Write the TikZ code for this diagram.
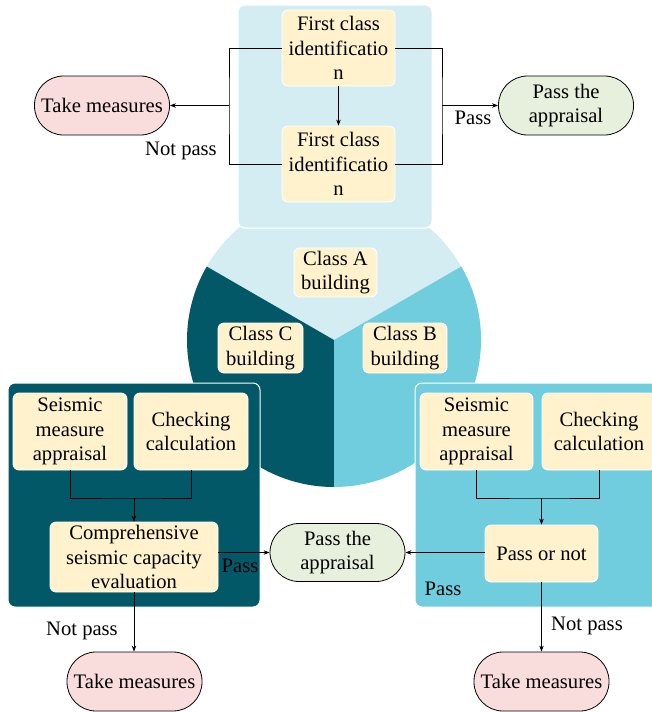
\documentclass[tikz,border=0pt]{standalone}
\usepackage{fontspec}
\setmainfont{Liberation Serif}
\usetikzlibrary{arrows.meta}
\definecolor{darkteal}{HTML}{035868}
\definecolor{midcyan}{HTML}{6FCDDD}
\definecolor{lightcyan}{HTML}{D3EDF2}
\definecolor{yel}{HTML}{FFF2CC}
\definecolor{pinkf}{HTML}{F9DCDC}
\definecolor{greenf}{HTML}{E6F0DC}
\tikzset{
  txt/.style={font=\fontsize{20.6}{24.5}\selectfont, align=center},
  ybox/.style={txt, rounded corners=6pt, fill=yel, draw=white, line width=0.8pt, inner sep=0pt},
  term/.style={txt, rounded corners=29pt, draw=black, line width=0.8pt, inner sep=0pt, minimum width=135pt, minimum height=59pt},
  panel/.style={rounded corners=7pt, draw=white, line width=1pt},
  conn/.style={line width=0.8pt},
  arr/.style={conn, -{Stealth[length=6pt,width=4.5pt]}},
  lbl/.style={txt, inner sep=0pt}
}
\begin{document}
\begin{tikzpicture}[x=1pt,y=-1pt]
\useasboundingbox (0,0) rectangle (651,712);
% pie
\fill[lightcyan] (334,340) -- ++(-150:147) arc[start angle=-150, end angle=-30, radius=147] -- cycle;
\fill[darkteal] (334,340) -- ++(90:147) arc[start angle=90, end angle=210, radius=147] -- cycle;
\fill[midcyan] (334,340) -- ++(-30:147) arc[start angle=-30, end angle=90, radius=147] -- cycle;
% panels
\filldraw[panel, fill=lightcyan] (238,5) rectangle (432,228);
\filldraw[panel, fill=darkteal] (8,383) rectangle (260,607);
\filldraw[panel, fill=midcyan] (415,383) rectangle (675,607);
% class boxes
\node[ybox, minimum width=83pt, minimum height=49pt] (ca) at (335.5,272.5) {Class A\\building};
\node[ybox, minimum width=85pt, minimum height=50pt] (cc) at (260.5,348) {Class C\\building};
\node[ybox, minimum width=84pt, minimum height=50pt] (cb) at (405,348) {Class B\\building};
% top
\node[ybox, minimum width=113pt, minimum height=76pt] (fc1) at (338.5,48) {First class\\identificatio\\n};
\node[ybox, minimum width=113pt, minimum height=76pt] (fc2) at (338.5,164) {First class\\identificatio\\n};
\node[term, fill=pinkf] (tm1) at (102,105.5) {Take measures};
\node[term, fill=greenf] (pt1) at (566,105.5) {Pass the\\appraisal};
\coordinate (bl) at (229,105.5);
\coordinate (br) at (442,105.5);
\draw[arr] (fc1) -- (fc2);
\draw[conn] (fc1.west) -| (bl) |- (fc2.west);
\draw[conn] (fc1.east) -| (br) |- (fc2.east);
\draw[arr] (bl) -- (tm1.east);
\draw[arr] (br) -- (pt1.west);
\node[lbl] (np1) at (181,151) {Not pass};
\node[lbl] (p1) at (473,118) {Pass};
% left panel
\node[ybox, minimum width=114pt, minimum height=77pt] (sm1) at (70,431.5) {Seismic\\measure\\appraisal};
\node[ybox, minimum width=114pt, minimum height=77pt] (ck1) at (191,431.5) {Checking\\calculation};
\node[ybox, minimum width=168pt, minimum height=70pt] (cp1) at (134,557) {Comprehensive\\seismic capacity\\evaluation};
\coordinate (j1) at (134,498);
\draw[conn] (sm1.south) |- (j1) -| (ck1.south);
\draw[arr] (j1) -- (cp1.north);
\node[term, fill=greenf, minimum height=58pt] (pa) at (337.5,552.5) {Pass the\\appraisal};
\draw[arr] (cp1.east |- pa.west) -- (pa.west);
\node[lbl] (p2) at (240,566) {Pass};
\node[term, fill=pinkf] (tm2) at (134.5,681.5) {Take measures};
\draw[arr] (cp1.south) -- (cp1.south |- tm2.north);
\node[lbl] (np2) at (82,631) {Not pass};
% right panel
\node[ybox, minimum width=113pt, minimum height=77pt] (sm2) at (476.5,431.5) {Seismic\\measure\\appraisal};
\node[ybox, minimum width=114pt, minimum height=77pt] (ck2) at (599,431.5) {Checking\\calculation};
\node[ybox, minimum width=113pt, minimum height=57pt] (pn) at (541.5,553.5) {Pass or not};
\coordinate (j2) at (541.5,498);
\draw[conn] (sm2.south) |- (j2) -| (ck2.south);
\draw[arr] (j2) -- (pn.north);
\draw[arr] (pn.west |- pa.east) -- (pa.east);
\node[lbl] (p3) at (443,589) {Pass};
\node[term, fill=pinkf] (tm3) at (541.5,681.5) {Take measures};
\draw[arr] (pn.south) -- (pn.south |- tm3.north);
\node[lbl] (np3) at (587,626) {Not pass};
\end{tikzpicture}
\end{document}
